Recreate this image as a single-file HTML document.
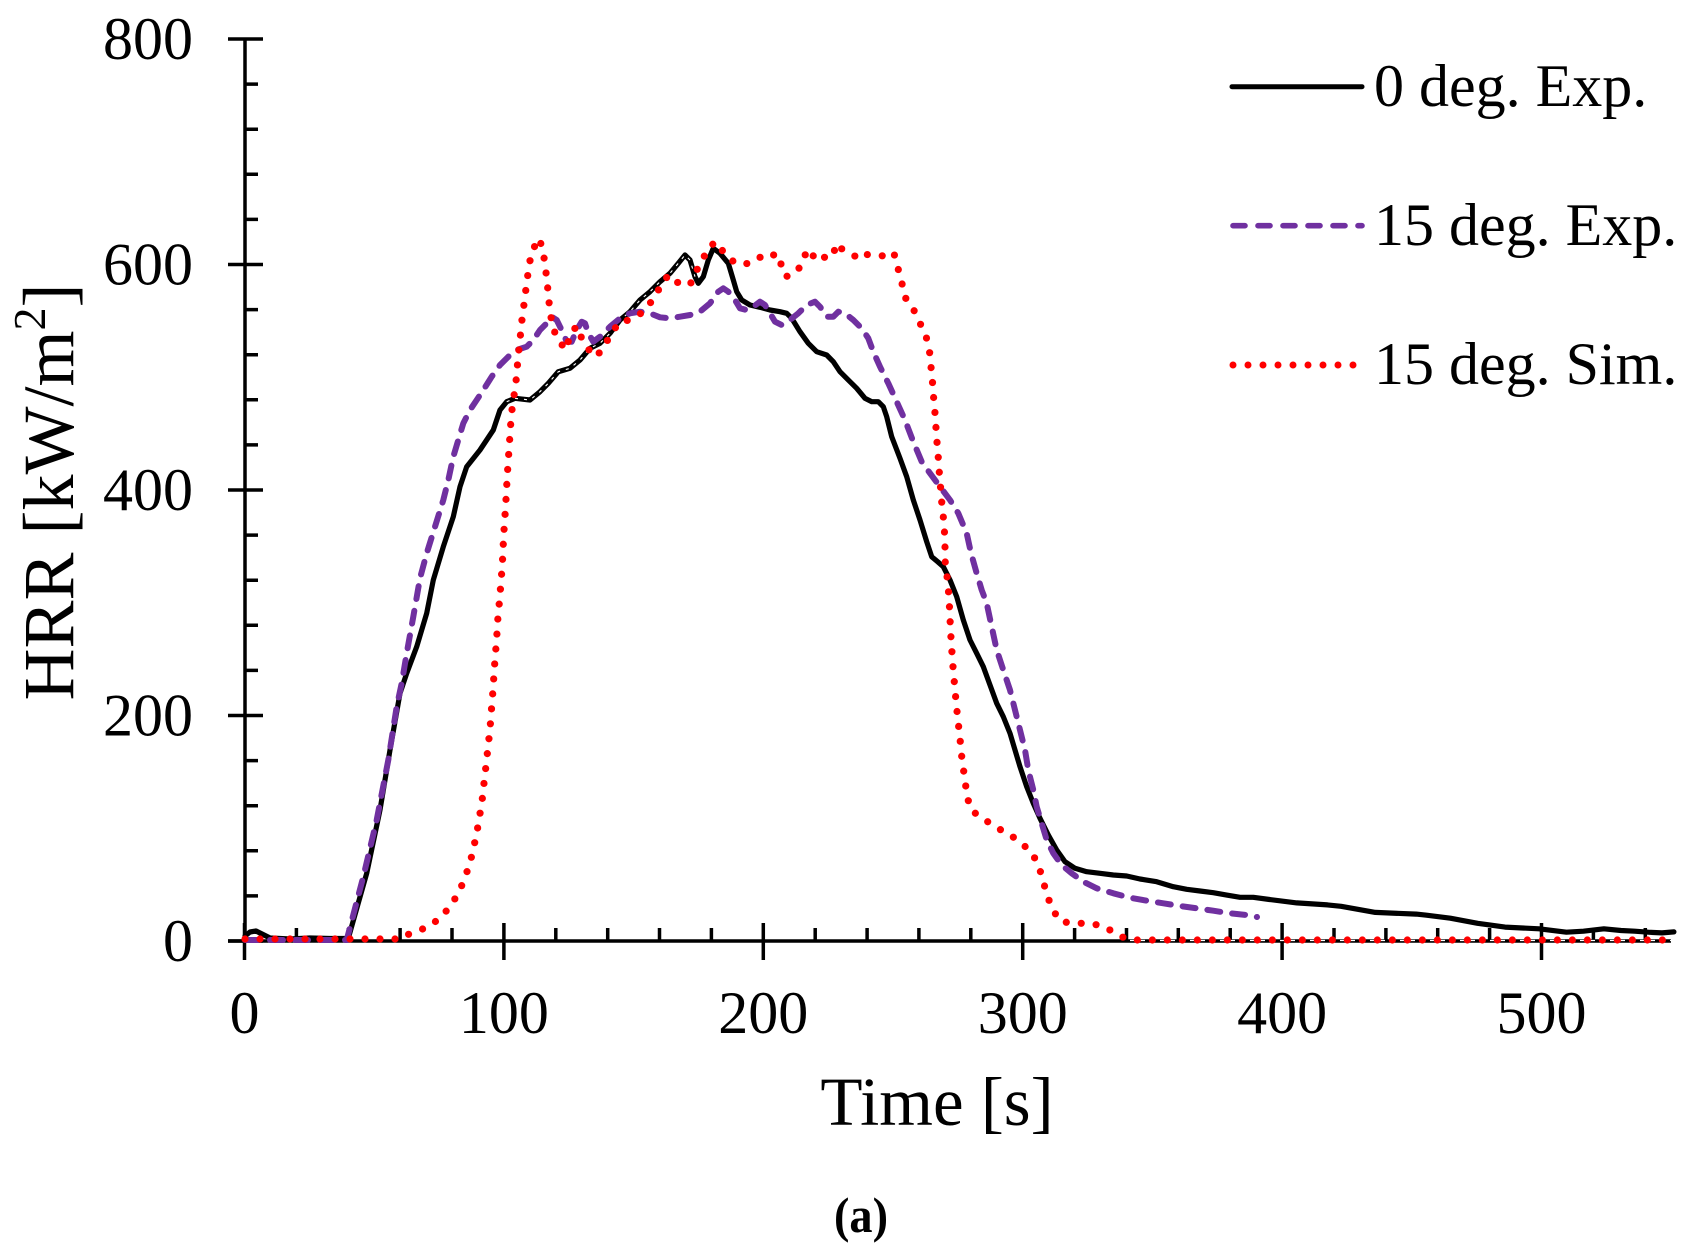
<!DOCTYPE html>
<html><head><meta charset="utf-8"><style>
html,body{margin:0;padding:0;background:#fff;}
svg{display:block;}
text{font-family:"Liberation Serif","Times New Roman",serif;fill:#000;}
</style></head><body>
<svg width="1685" height="1258" viewBox="0 0 1685 1258" xmlns="http://www.w3.org/2000/svg">
<rect width="1685" height="1258" fill="#fff"/>

<!-- axes -->
<g stroke="#000" stroke-width="3.5" fill="none">
<path d="M245 39V941M228 941H1671"/>
<path d="M228 941h35M228 715.5h35M228 490h35M228 264.5h35M228 39h35"/>
<path d="M245 895.9h13M245 850.8h13M245 805.7h13M245 760.6h13M245 670.4h13M245 625.3h13M245 580.2h13M245 535.1h13M245 444.9h13M245 399.8h13M245 354.7h13M245 309.6h13M245 219.4h13M245 174.3h13M245 129.2h13M245 84.1h13"/>
<path d="M244.5 923v37M503.9 923v37M763.3 923v37M1022.7 923v37M1282.1 923v37M1541.5 923v37"/>
<path d="M296.4 941v-13M348.3 941v-13M400.1 941v-13M452 941v-13M555.8 941v-13M607.7 941v-13M659.5 941v-13M711.4 941v-13M815.2 941v-13M867.1 941v-13M918.9 941v-13M970.8 941v-13M1074.6 941v-13M1126.5 941v-13M1178.3 941v-13M1230.2 941v-13M1334 941v-13M1385.9 941v-13M1437.7 941v-13M1489.6 941v-13M1593.4 941v-13M1645.3 941v-13"/>
</g>

<!-- tick labels -->
<g font-size="60" text-anchor="end">
<text x="193" y="59">800</text>
<text x="193" y="284.5">600</text>
<text x="193" y="510">400</text>
<text x="193" y="735.5">200</text>
<text x="193" y="961">0</text>
</g>
<g font-size="60" text-anchor="middle">
<text x="244.5" y="1033">0</text>
<text x="503.9" y="1033">100</text>
<text x="763.3" y="1033">200</text>
<text x="1022.7" y="1033">300</text>
<text x="1282.1" y="1033">400</text>
<text x="1541.5" y="1033">500</text>
</g>

<!-- axis titles -->
<text x="937" y="1125" font-size="69" text-anchor="middle">Time [s]</text>
<text transform="translate(73,492) rotate(-90)" font-size="72" text-anchor="middle">HRR [kW/m<tspan font-size="46" dy="-28">2</tspan><tspan dy="28">]</tspan></text>
<text x="861" y="1232" font-size="50" font-weight="bold" text-anchor="middle" textLength="54" lengthAdjust="spacingAndGlyphs">(a)</text>

<!-- black series -->
<polyline fill="none" stroke="#000" stroke-width="5.2" stroke-linejoin="round" stroke-linecap="round" points="245,936 250,932 256,931 262,934 270,938 290,939 310,938 330,938.5 346,938.5 348.3,938.3 366.7,873.3 380,810 390,750 400,693.3 406.7,673.3 416.7,646.7 426.7,613.3 433.3,580 443.3,546.7 453.3,516.7 460,486.7 466.7,466.7 480,450 493.3,430 500,410 506.7,401.7 515,398.3 530,400 540,391.7 548.3,383.3 558.3,371.7 570,368.3 580,360 590,348.3 600,343.3 610,333.3 620,320 630,311.7 640,300 650,291.7 660,281.7 670,273.3 678.3,263.3 685,255 690,260 695,276.7 698.3,283.3 703.3,276.7 708.3,260 713.3,248.3 720,253.3 728.3,263.3 733.3,280 736.7,291.7 741.7,300 750,305 760,307.3 770,310 780,311.7 786.7,313.3 791.7,318.3 800,331.7 808.3,343.3 816.7,351.7 826.7,355 833.3,361.7 840,371.7 850,381.7 856.7,388.3 865,398.3 871.7,401.7 878.3,401.7 883.3,406.7 886.7,416.7 891.7,436.7 900,458.3 906.7,476.7 913.3,500 920,520 926.7,541.7 931.7,556.7 938,562 943.3,566.7 950,580 956.7,596.7 963.3,620 970,640 976.7,653.3 983.3,666.7 990,685 996.7,703.3 1003.3,716.7 1010,733.3 1015,750 1020,766.7 1026.7,786.7 1033.3,803.3 1040,818.3 1048.3,835 1056.7,850 1065,861.7 1075,868.3 1086.7,871.7 1100,873.3 1113.3,875 1126.7,876 1140,879 1156.7,881.7 1173.3,886.7 1186.7,889.3 1200,891 1213.3,892.7 1226.7,895 1240,897.3 1253.3,897.3 1269.5,899.5 1296.8,902.9 1327.5,904.9 1341.1,906.3 1375.3,912.4 1416.2,914.1 1426.5,915.2 1450.3,918.2 1477.6,923.3 1505,927.1 1539.1,928.8 1566.4,932.2 1583.5,931.2 1603.9,928.8 1621,930.5 1634.7,931.2 1648.3,932.2 1662,932.9 1673.9,931.9"/>
<polyline fill="none" stroke="#fff" stroke-width="1.1" stroke-dasharray="3 6" points="506.7,401.7 515,398.3 530,400 540,391.7 548.3,383.3 558.3,371.7 570,368.3 580,360 590,348.3 600,343.3 610,333.3 620,320 630,311.7 640,300 650,291.7 660,281.7 670,273.3 678.3,263.3 685,255 690,260 695,276.7"/>

<!-- purple series -->
<polyline fill="none" stroke="#7030A0" stroke-width="6" stroke-dasharray="13 12" stroke-linejoin="round" stroke-linecap="round" points="245,940 300,940 346.7,940 363.3,876.7 376.7,820 388.3,760 396.7,706.7 401.7,683.3 406.7,653.3 413.3,616.7 420,578.3 426.7,553.3 435,526.7 443.3,500 448.3,480 453.3,456.7 458.3,440 463.3,423.3 470,410 476.7,400 483.3,390 491.7,376.7 500,365 508.3,356.7 516.7,350 526.7,346.7 533.3,340 540,330 546.7,323.3 551.7,316.7 556.7,320 560,326.7 563.3,333.3 566.7,341.7 571.7,341.7 576.7,330 581.7,321.7 585,323.3 588.3,333.3 593.3,341.7 600,336.7 610,326.7 620,318.3 630,313.3 640,311.7 650,313.3 660,317.3 670,318.3 680,316.7 690,315 700,311.7 710,303.3 718.3,291.7 723.3,288.3 728.3,291.7 735,300 740,308.3 746.7,310 753.3,306.7 760,301.7 765,305 770,313.3 775,321.7 781.7,325 790,320 798.3,313.3 806.7,305 815,301.7 820,306.7 826.7,316.7 833.3,316.7 838.3,311.7 845,313.3 853.3,320 861.7,328.3 868.3,338.3 873.3,351.7 880,366.7 888.3,383.3 896.7,401.7 905,420 913.3,441.7 921.7,461.7 930,473.3 940,486.7 950,500 958.3,513.3 966.7,533.3 971,553 976.7,573.3 981.7,590 986.7,603.3 991.7,626.7 996.7,650 1003.3,670 1010,690 1015,710 1020,730 1025,750 1028.3,770 1033.3,790 1036.7,806.7 1041.7,823.3 1046.7,840 1053.3,853.3 1061.7,865 1071.7,873.3 1083.3,881.7 1096.7,888.3 1113.3,893.3 1130,897.7 1146.7,900.7 1163.3,903.3 1180,906 1196.7,908.3 1213.3,910.7 1230,913.3 1246.7,915 1257,917"/>

<!-- white dash artifact on axis -->
<line x1="1130" y1="940.5" x2="1671" y2="940.5" stroke="#fff" stroke-width="1.2" stroke-dasharray="5 5"/>

<!-- red series -->
<polyline fill="none" stroke="#FF0000" stroke-width="7.2" stroke-dasharray="0 15" stroke-linejoin="round" stroke-linecap="round" points="245,939 400,939 403.3,936 416.7,931.7 430.7,925.3 442.3,916 451.7,904 459.3,891.7 465,877.3 470,863.3 473.3,848.7 476.7,834 479,819 481.7,804.3 483.3,789.3 485,774.3 486.7,759.3 488.3,744.3 490,729.7 491,714.7 492.3,699.7 493.3,684.7 494.3,669.7 495.3,654.7 496.7,639.7 497.3,624.7 498.7,609.7 500,594.7 502.3,565 503.7,535 505.7,505 507.3,475 509.3,445 511.3,415 513.3,400 515.7,385 517,370 518.3,355 520,340 521.3,325 523.3,310 525,296 527,281 529,265.7 532,251 539.3,238.3 543.3,252.3 545.3,267.3 547.3,282.3 548.3,296.7 550.3,311.7 552.3,326.7 558.3,340 566,350 570,335 576.7,326 582.7,340.7 591,352.7 596.7,356.7 604.3,345 612.3,333.3 618.3,322.7 629,320 639.3,314.7 648.3,306 656.7,293.3 663.3,280.7 669.3,275 676.7,282.3 685,283.3 690,285 695.7,271.7 701.7,262.3 707.3,249 715.7,241.7 721.7,250 729.3,255.7 734,262.7 744,264 752.3,262.7 760,257.3 765.7,259.3 776.7,253.3 782.3,267.3 785.7,276.7 794,274 802.3,264.3 806.7,250 812.3,256.7 817.7,251.7 824.3,257.3 832.3,257.3 836.7,243.3 840.7,248.3 848.3,252.3 860,259 865.7,254.3 875.7,256 885.7,255.7 893.7,252.3 897.7,267.3 901.7,281.7 904.3,296.3 912.7,307.7 919.3,321.7 925.7,335 929.3,349 930.7,364 932.3,379.3 933.3,394 934.7,409 935.7,423.3 936.7,438.7 938,453.3 939,468.7 940.3,484 941.3,498.3 943,513.3 944.3,528.3 945,543.3 945,560 946.7,573.3 948.3,588.3 949.3,603.3 950,618.3 950.7,633.3 951.7,648.3 952.7,663.3 954,678.3 955.3,693.3 956.7,708.3 958.3,723.3 960,738.3 961.3,753.3 963.3,768.3 965.3,782.7 967.3,797.7 971.7,810.7 984,819.3 996.7,827.7 1009.3,834.3 1021.7,843.3 1032.3,853.3 1039,866.7 1043.3,881.7 1047.3,895.7 1052.7,910 1061,921.7 1075.7,923.3 1090,923.3 1105,926.7 1117.3,935 1130,940 1672,940"/>

<!-- legend -->
<line x1="1232" y1="86.7" x2="1362" y2="86.7" stroke="#000" stroke-width="5" stroke-linecap="round"/>
<line x1="1233" y1="225.7" x2="1362" y2="225.7" stroke="#7030A0" stroke-width="5.6" stroke-dasharray="12 13" stroke-linecap="round"/>
<line x1="1233" y1="365" x2="1356" y2="365" stroke="#FF0000" stroke-width="7" stroke-dasharray="0 15" stroke-linecap="round"/>
<g font-size="60">
<text x="1374" y="106">0 deg. Exp.</text>
<text x="1374" y="245">15 deg. Exp.</text>
<text x="1374" y="384">15 deg. Sim.</text>
</g>
</svg>
</body></html>
